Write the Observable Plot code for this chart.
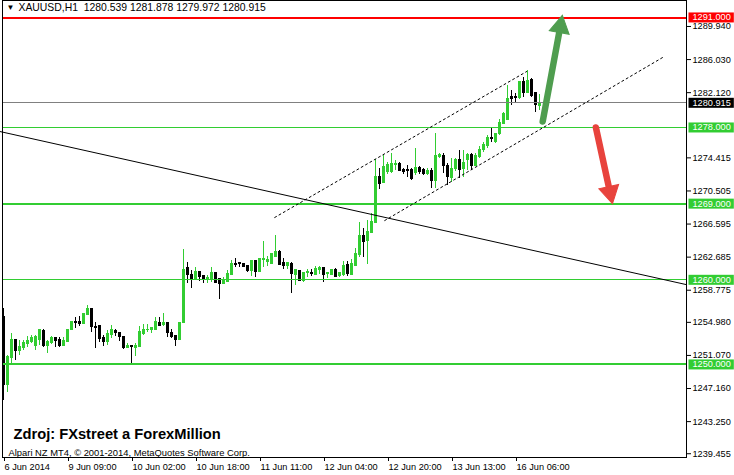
<!DOCTYPE html>
<html><head><meta charset="utf-8">
<script src="https://cdn.jsdelivr.net/npm/d3@7"></script>
<script src="https://cdn.jsdelivr.net/npm/@observablehq/plot@0.6"></script>
<style>
html,body{margin:0;padding:0;background:#fff;overflow:hidden;}
svg{display:block;}
</style>
</head><body><div id="chart"></div>
<script>
// ---- data (hourly XAUUSD bars) ----
const opens = [1255.6,1247.52,1250.71,1252.84,1251.65,1251.97,1252.48,1252.63,1252.13,1252.84,
1253.90,1252.13,1252.52,1253.11,1252.92,1252.13,1252.63,1254.02,1255.00,1255.08,
1254.81,1255.79,1256.58,1254.43,1254.49,1253.11,1252.63,1253.43,1253.93,1253.74,
1253.19,1251.93,1252.13,1251.93,1252.05,1253.55,1254.02,1254.02,1254.10,1254.88,
1254.61,1254.88,1253.78,1253.35,1252.84,1254.88,1261.38,1260.52,1260.13,1260.91,
1260.40,1260.01,1259.93,1260.79,1260.13,1259.53,1259.72,1260.52,1261.90,1261.97,
1261.90,1261.61,1261.02,1262.17,1260.91,1262.29,1262.09,1261.90,1262.76,1263.35,
1261.97,1261.61,1261.90,1260.63,1261.02,1259.81,1260.79,1260.79,1260.63,1261.19,
1261.43,1260.72,1260.63,1261.22,1260.40,1260.52,1261.78,1260.63,1261.61,1262.88,
1265.24,1264.57,1265.51,1266.70,1272.21,1271.45,1272.80,1272.72,1273.60,1273.71,
1273.01,1272.95,1273.01,1272.60,1273.19,1273.01,1272.53,1272.92,1271.74,1274.50,
1274.58,1273.51,1272.06,1273.12,1274.19,1273.12,1274.19,1274.81,1273.51,1274.50,
1275.30,1275.76,1276.79,1276.27,1277.18,1278.44,1278.91,1281.58,1281.55,1281.51,
1283.36,1282.06,1283.56,1282.06,1280.539];
const highs = [1256.62,1251.06,1253.70,1252.95,1252.84,1252.84,1253.31,1253.43,1253.43,1254.05,
1254.14,1252.84,1253.31,1253.19,1253.19,1253.19,1254.14,1255.10,1255.59,1255.67,
1256.06,1256.97,1256.62,1255.00,1254.61,1253.43,1254.02,1254.61,1254.14,1253.78,
1253.22,1252.52,1252.16,1252.52,1254.49,1254.69,1254.69,1254.41,1255.55,1255.55,
1256.00,1255.00,1254.10,1253.43,1254.90,1263.59,1262.02,1261.11,1261.43,1261.02,
1260.45,1260.52,1261.50,1260.85,1260.20,1260.24,1261.11,1262.29,1262.49,1262.09,
1261.97,1261.70,1262.21,1262.21,1262.55,1264.57,1262.80,1263.10,1265.24,1263.47,
1262.49,1262.09,1262.09,1261.19,1261.11,1260.91,1261.19,1261.19,1261.58,1261.58,
1261.50,1260.91,1261.19,1261.31,1260.91,1262.21,1262.21,1262.37,1263.67,1266.72,
1266.03,1267.02,1267.81,1274.22,1273.16,1274.70,1273.90,1274.90,1274.10,1273.90,
1273.20,1273.51,1273.20,1275.56,1273.40,1273.20,1273.10,1273.10,1277.26,1274.90,
1274.90,1273.71,1274.31,1274.30,1275.29,1275.29,1274.90,1274.90,1274.90,1275.80,
1276.27,1277.00,1277.89,1277.30,1279.00,1279.81,1282.97,1282.38,1282.06,1283.48,
1283.95,1284.74,1283.76,1282.18,1281.878];
const lows = [1245.75,1246.73,1250.08,1250.47,1251.06,1251.65,1252.01,1252.48,1251.65,1252.24,
1252.00,1251.33,1252.36,1252.01,1252.05,1252.10,1252.60,1254.00,1254.25,1254.49,
1254.79,1255.75,1253.82,1251.85,1252.63,1252.16,1252.24,1253.04,1253.35,1252.75,
1251.77,1251.85,1250.08,1250.95,1252.02,1253.43,1253.82,1253.70,1254.02,1254.45,
1254.49,1253.15,1253.04,1252.16,1252.80,1254.81,1259.53,1258.94,1260.01,1259.81,
1259.61,1259.53,1259.72,1259.55,1257.68,1259.45,1259.70,1260.50,1261.50,1261.50,
1261.43,1260.91,1260.43,1260.31,1260.83,1261.50,1261.61,1261.85,1262.68,1261.68,
1261.19,1261.19,1258.42,1259.33,1259.80,1259.72,1260.31,1260.40,1260.52,1260.63,
1259.72,1260.13,1260.52,1260.24,1260.24,1260.43,1260.40,1260.60,1261.55,1262.68,
1262.68,1261.82,1265.44,1266.62,1270.64,1271.35,1272.50,1272.60,1272.90,1272.80,
1272.50,1272.13,1271.74,1272.30,1272.50,1272.30,1272.30,1270.76,1270.76,1274.30,
1272.53,1271.15,1271.54,1272.80,1271.94,1272.13,1272.92,1272.92,1273.40,1274.30,
1275.10,1275.50,1276.27,1276.10,1277.00,1278.30,1278.80,1280.60,1280.80,1281.30,
1281.58,1281.99,1281.60,1279.81,1279.972];
const closes = [1247.52,1250.86,1252.84,1251.54,1252.01,1252.52,1252.75,1253.11,1253.23,1254.02,
1252.13,1252.63,1253.11,1252.72,1252.13,1252.72,1254.10,1255.08,1254.96,1254.81,
1255.91,1256.58,1254.41,1254.37,1253.04,1252.63,1253.63,1254.10,1253.70,1253.23,
1251.89,1252.24,1252.05,1252.21,1253.82,1254.10,1254.10,1254.29,1255.00,1254.52,
1254.88,1253.70,1253.23,1252.95,1254.88,1261.22,1260.52,1260.01,1260.91,1260.31,
1259.93,1260.24,1260.79,1259.61,1259.53,1259.84,1260.72,1261.90,1261.78,1261.82,
1261.50,1261.02,1262.17,1260.91,1262.49,1262.49,1262.37,1263.08,1263.35,1261.70,
1261.61,1261.97,1260.72,1261.11,1259.84,1260.83,1260.91,1260.72,1261.31,1261.43,
1260.63,1260.83,1261.11,1260.31,1260.79,1261.61,1260.72,1261.82,1263.08,1265.16,
1264.45,1265.63,1266.81,1272.21,1271.35,1273.30,1273.60,1273.71,1273.70,1272.92,
1272.72,1272.88,1271.94,1273.19,1272.72,1272.53,1272.92,1271.74,1274.58,1274.70,
1273.51,1272.13,1273.12,1274.19,1273.01,1273.79,1274.81,1273.51,1274.58,1275.30,
1275.88,1276.82,1276.67,1277.18,1278.51,1279.54,1281.39,1281.39,1281.45,1283.36,
1282.06,1283.48,1281.67,1280.70,1280.915];

const timeTickBars = [0, 16, 32, 48, 64, 80, 96, 112, 128];
const timeTickLabels = ["6 Jun 2014","9 Jun 09:00","10 Jun 02:00","10 Jun 18:00","11 Jun 11:00","12 Jun 04:00","12 Jun 20:00","13 Jun 13:00","16 Jun 06:00"];
const priceTicks = [1289.940,1286.030,1282.120,1274.415,1270.505,1266.595,1262.685,1258.775,1254.980,1251.070,1247.160,1243.250,1239.455];

const levelPrices = [1291, 1278, 1269, 1260, 1250];
const levelColors = ["#ff0000", "#32cd32", "#32cd32", "#32cd32", "#32cd32"];
const levelWidths = [2, 1, 2, 1, 2];
const lastPrice = 1280.915;

const trendBars = [-0.925, 170.6];
const trendPrices = [1277.53, 1259.45];
const channelUpperBars = [67.8, 130.8];
const channelUpperPrices = [1267.37, 1284.62];
const channelLowerBars = [95.3, 164.8];
const channelLowerPrices = [1267.01, 1286.28];

const arrowUpBars = [134.8, 139.6];
const arrowUpPrices = [1278.71, 1290.95];
const arrowDownBars = [148.1, 152.1];
const arrowDownPrices = [1278.0, 1269.30];

const titleText = "XAUUSD,H1  1280.539 1281.878 1279.972 1280.915";
const captionText = "Zdroj: FXstreet a ForexMillion";
const copyrightText = "Alpari NZ MT4, \u00A9 2001-2014, MetaQuotes Software Corp.";

// ---- layout ----
const W = 734, H = 475, ML = 2, MR = 48, MT = 0, MB = 18;
const XD = [-0.25, 170.75], YD = [1239.01, 1293.01];
const kx = (W - ML - MR) / (XD[1] - XD[0]);   // px per bar
const ky = (H - MT - MB) / (YD[1] - YD[0]);   // px per price unit

// ---- build tables ----
const BULL = "#32cd32", BEAR = "#000000";
const bars = opens.map((o, i) => ({i, o, h: highs[i], l: lows[i], c: closes[i], up: closes[i] > o}));
const levels = levelPrices.map((p, k) => ({p, color: levelColors[k], w: levelWidths[k], label: p.toFixed(3)}));
const labelRows = [...levels, {p: lastPrice, color: "#000000", label: lastPrice.toFixed(3)}];
const labelSet = new Map(labelRows.map(d => [d.label, d.color]));
const pts = (xs, ys, id) => xs.map((x, k) => ({x, y: ys[k], id}));
const channel = [...pts(channelUpperBars, channelUpperPrices, "u"), ...pts(channelLowerBars, channelLowerPrices, "l")];
const trend = pts(trendBars, trendPrices, "t");
const HEAD_R = 7.5;
const arrows = [
  {x1: arrowUpBars[0], y1: arrowUpPrices[0], x2: arrowUpBars[1], y2: arrowUpPrices[1], color: "#4f9d4f"},
  {x1: arrowDownBars[0], y1: arrowDownPrices[0], x2: arrowDownBars[1], y2: arrowDownPrices[1], color: "#e8433d"}
].map(a => {
  const dxp = (a.x2 - a.x1) * kx, dyp = -(a.y2 - a.y1) * ky;
  const len = Math.hypot(dxp, dyp);
  const ux = dxp / len, uy = dyp / len;
  const back = HEAD_R * 1.2;
  const shaftBack = HEAD_R * 1.6;
  return {...a,
    hx: a.x2 - ux * back / kx, hy: a.y2 + uy * back / ky,
    sx: a.x2 - ux * shaftBack / kx, sy: a.y2 + uy * shaftBack / ky,
    angle: Math.atan2(dxp, -dyp) * 180 / Math.PI};
});

const FONT = "Liberation Sans, Arial, sans-serif";

const plot = Plot.plot({
  width: W, height: H,
  marginLeft: ML, marginRight: MR, marginTop: MT, marginBottom: MB,
  style: {fontFamily: FONT, fontSize: "9px", background: "#fff", color: "#000"},
  x: {type: "linear", domain: XD, axis: null},
  y: {type: "linear", domain: YD, axis: null},
  marks: [
    // candles
    Plot.ruleX(bars, {x: "i", y1: "l", y2: "h", stroke: d => d.up ? BULL : BEAR, shapeRendering: "crispEdges"}),
    Plot.rect(bars, {x1: d => d.i - 0.375, x2: d => d.i + 0.375, y1: d => Math.min(d.o, d.c), y2: d => Math.max(d.o, d.c),
      fill: d => d.up ? BULL : BEAR, insetTop: -0.5, insetBottom: -0.5, shapeRendering: "crispEdges"}),
    // horizontal levels
    Plot.ruleY(levels.filter(d => d.w === 1), {y: "p", stroke: "color", strokeWidth: 1, shapeRendering: "crispEdges"}),
    Plot.ruleY(levels.filter(d => d.w === 2), {y: "p", stroke: "color", strokeWidth: 2, shapeRendering: "crispEdges"}),
    Plot.ruleY([lastPrice], {stroke: "#808080", strokeWidth: 1, shapeRendering: "crispEdges"}),
    // trend line and channel
    Plot.line(trend, {x: "x", y: "y", stroke: "#000", strokeWidth: 1}),
    Plot.line(channel, {x: "x", y: "y", z: "id", stroke: "#000", strokeWidth: 1, strokeDasharray: "2,3"}),
    // arrows: shaft + filled head
    Plot.link(arrows, {x1: "x1", y1: "y1", x2: "sx", y2: "sy", stroke: "color", strokeWidth: 6.5, strokeLinecap: "round"}),
    Plot.dot(arrows, {x: "hx", y: "hy", symbol: "triangle", r: HEAD_R, fill: "color", stroke: "color", strokeWidth: 1, rotate: "angle"}),
    // frame and axes
    Plot.frame({stroke: "#000", shapeRendering: "crispEdges"}),
    Plot.axisY({anchor: "right", ticks: priceTicks, tickFormat: d => d.toFixed(3), tickSize: 4, tickPadding: 2, fontSize: 9.2, fill: "#000"}),
    Plot.axisX({anchor: "bottom", ticks: timeTickBars, tickFormat: d => timeTickLabels[timeTickBars.indexOf(d)], tickSize: 4, tickPadding: 2, textAnchor: "start", dx: 1, fontSize: 9.2, fill: "#000"}),
    // price labels at right
    Plot.text(labelRows, {y: "p", text: "label", frameAnchor: "right", textAnchor: "start", dx: 6, fill: "#ffffff", fontSize: 9.2}),
    // header and captions
    Plot.text([titleText], {frameAnchor: "top-left", textAnchor: "start", lineAnchor: "top", dx: 16, dy: 3, fontSize: 10.4, fill: "#000"}),
    Plot.text(["\u25BC"], {frameAnchor: "top-left", textAnchor: "start", lineAnchor: "top", dx: 4, dy: 4, fontSize: 8, fill: "#000"}),
    Plot.text([captionText], {frameAnchor: "bottom-left", textAnchor: "start", lineAnchor: "bottom", dx: 11, dy: -19, fontSize: 14.7, fontWeight: "bold", fill: "#000"}),
    Plot.text([copyrightText], {frameAnchor: "bottom-left", textAnchor: "start", lineAnchor: "bottom", dx: 6, dy: -2, fontSize: 9.4, fill: "#000"})
  ]
});
document.getElementById("chart").appendChild(plot);

// coloured boxes behind the level labels
d3.select(plot).selectAll("text").each(function() {
  const label = this.textContent;
  if (!labelSet.has(label)) return;
  const g = this.parentNode;
  if (g.getAttribute("fill") !== "#ffffff" && this.getAttribute("fill") !== "#ffffff") return;
  const bb = this.getBBox();
  d3.select(g).insert("rect", () => this)
    .attr("transform", this.getAttribute("transform"))
    .attr("x", bb.x - 4).attr("y", bb.y).attr("width", bb.width + 7).attr("height", bb.height)
    .attr("fill", labelSet.get(label));
});
</script>
</body></html>
